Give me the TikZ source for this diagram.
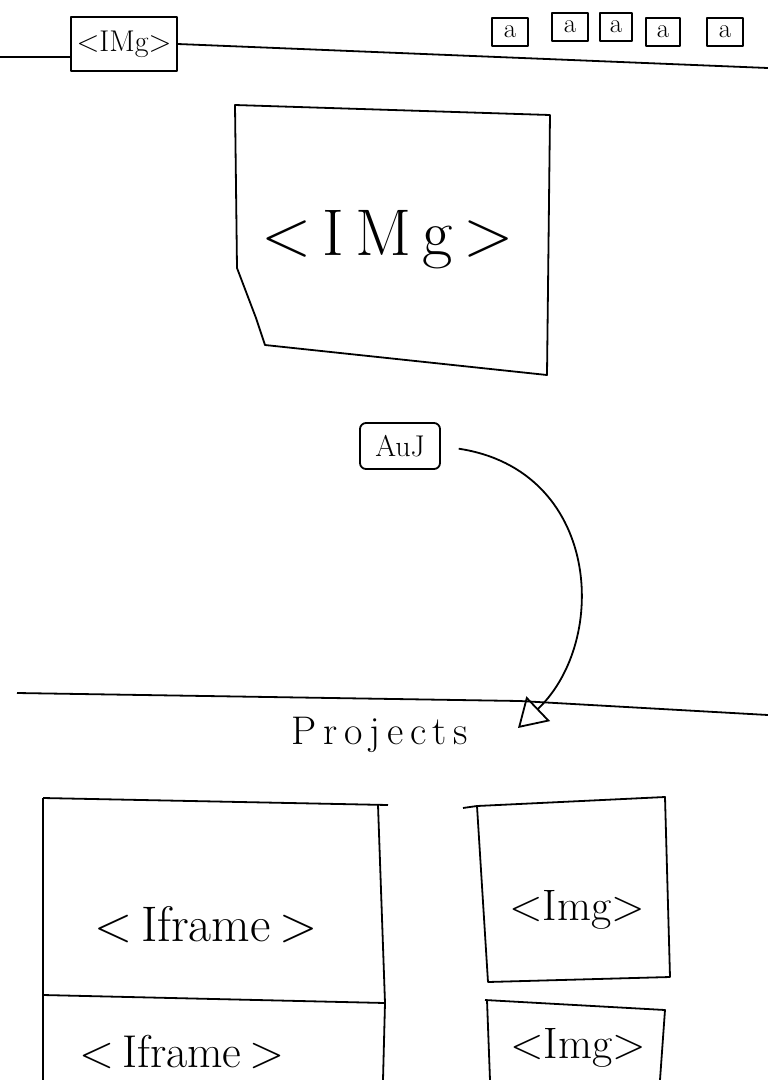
\documentclass[tikz,border=0pt]{standalone}
\usetikzlibrary{arrows.meta}
\begin{document}
\begin{tikzpicture}[x=1pt, y=-1pt, line width=1.8pt, line join=round,
    >={Triangle[open, length=28pt, width=34pt, line width=1.8pt]},
    bigtext/.style={font=\fontsize{#1}{#1}\selectfont},
    navbox/.style={draw, minimum width=36pt, minimum height=28pt, inner sep=0pt, bigtext=27}]
    \useasboundingbox (0,0) rectangle (768,1080);

    % header
    \node[draw, minimum width=106pt, minimum height=54pt, inner sep=0pt, bigtext=30] (logo) at (124,44) {<IMg>};
    \draw (0,57) -- (logo.west |- 0,57);
    \draw (logo.east) -- (768,68);
    \node[navbox] (nav1) at (510,32) {a};
    \node[navbox] (nav2) at (570,27) {a};
    \node[navbox, minimum width=32pt] (nav3) at (616,27) {a};
    \node[navbox, minimum width=34pt] (nav4) at (663,32) {a};
    \node[navbox] (nav5) at (725,32) {a};

    % hero image
    \draw (235,105) -- (550,115) -- (547,375) -- (265,345) -- (256,318) -- (237,268) -- cycle;
    \node[bigtext=66] (hero) at (388,240) {<\,I\,M\,g\,>};

    % about
    \node[draw, rounded corners=6pt, minimum width=80pt, minimum height=46pt, inner sep=0pt, bigtext=30] (about) at (400,446) {AuJ};

    % projects
    \draw (17,693) -- (520,701) -- (768,715);
    \node[bigtext=40] (proj) at (380,735) {P\,r\,o\,j\,e\,c\,t\,s};
    \coordinate (tip) at (518,728);
    \draw[->, shorten <=18pt] (about.east) .. controls (600,470) and (610,640) .. (tip);

    % iframes
    \draw (43,798) -- (388,805);
    \draw (43,798) -- (43,1080);
    \draw (378,805) -- (385,1003) -- (43,995);
    \draw (385,1003) -- (383,1080);
    \node[bigtext=50] (frame1) at (206,925) {<\,Iframe\,>};
    \node[bigtext=46] (frame2) at (182,1052) {<\,Iframe\,>};

    % images
    \draw (463,808) -- (477,806) -- (665,797) -- (670,977) -- (488,982) -- (477,806);
    \node[bigtext=44] (img1) at (577,910) {<Img>};
    \draw (485,1000) -- (665,1010) -- (660,1080);
    \draw (487,1000) -- (490,1080);
    \node[bigtext=44] (img2) at (578,1048) {<Img>};
\end{tikzpicture}
\end{document}
